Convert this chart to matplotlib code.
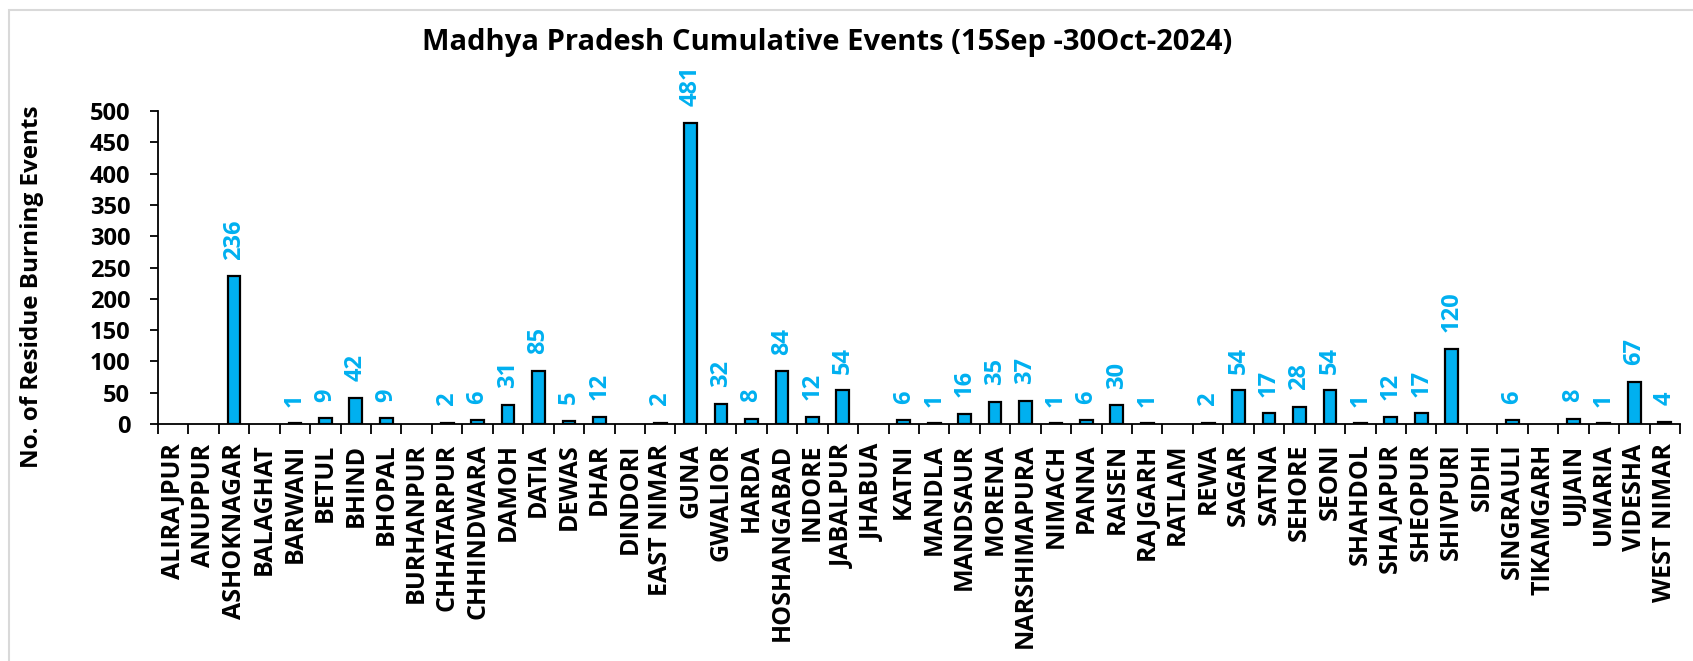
import matplotlib
matplotlib.use('Agg')
import matplotlib.pyplot as plt
import numpy as np
from matplotlib.patches import Rectangle

# districts and cumulative residue burning events
districts = ['ALIRAJPUR', 'ANUPPUR', 'ASHOKNAGAR', 'BALAGHAT', 'BARWANI', 'BETUL', 'BHIND',
             'BHOPAL', 'BURHANPUR', 'CHHATARPUR', 'CHHINDWARA', 'DAMOH', 'DATIA', 'DEWAS',
             'DHAR', 'DINDORI', 'EAST NIMAR', 'GUNA', 'GWALIOR', 'HARDA', 'HOSHANGABAD',
             'INDORE', 'JABALPUR', 'JHABUA', 'KATNI', 'MANDLA', 'MANDSAUR', 'MORENA',
             'NARSHIMAPURA', 'NIMACH', 'PANNA', 'RAISEN', 'RAJGARH', 'RATLAM', 'REWA',
             'SAGAR', 'SATNA', 'SEHORE', 'SEONI', 'SHAHDOL', 'SHAJAPUR', 'SHEOPUR',
             'SHIVPURI', 'SIDHI', 'SINGRAULI', 'TIKAMGARH', 'UJJAIN', 'UMARIA', 'VIDESHA',
             'WEST NIMAR']
events = [0, 0, 236, 0, 1, 9, 42,
          9, 0, 2, 6, 31, 85, 5,
          12, 0, 2, 481, 32, 8, 84,
          12, 54, 0, 6, 1, 16, 35,
          37, 1, 6, 30, 1, 0, 2,
          54, 17, 28, 54, 1, 12, 17,
          120, 0, 6, 0, 8, 1, 67,
          4]
yticks = [0, 50, 100, 150, 200, 250, 300, 350, 400, 450, 500]

plt.rcParams['font.family'] = ['Open Sans', 'DejaVu Sans']
plt.rcParams['font.weight'] = 'bold'

azul = '#00B0F0'

fig = plt.figure(figsize=(16.93, 6.61), dpi=100)
ax = fig.add_axes([0.0933, 0.3585, 0.8990, 0.4735])

x = np.arange(len(districts))
# sin borde en las barras de valor cero
bordes = [1.6 if v > 0 else 0 for v in events]
ax.bar(x, events, width=0.42, color=azul, edgecolor='black', linewidth=bordes)

# etiquetas de valor, solo para barras con datos
for xi, v in zip(x, events):
    if v > 0:
        ax.annotate(str(v), (xi, v), xytext=(0, 12), textcoords='offset points',
                    rotation=90, ha='center', va='bottom', color=azul,
                    fontsize=17, fontweight='bold')

ax.set_xlim(-0.5, len(districts) - 0.5)
ax.set_ylim(0, 500)
ax.set_yticks(yticks)
ax.set_yticklabels([str(t) for t in yticks], fontsize=17, fontweight='bold')

ax.set_xticks(x)
ax.set_xticklabels(districts, rotation=90, fontsize=18, fontweight='bold')
ax.set_xticks(np.arange(len(districts) + 1) - 0.5, minor=True)
ax.tick_params(axis='x', which='major', length=0, pad=14)
ax.tick_params(axis='x', which='minor', length=7, width=1.3)
ax.tick_params(axis='y', length=6, width=1.3, pad=14)

for s in ['top', 'right']:
    ax.spines[s].set_visible(False)
ax.spines['left'].set_linewidth(1.3)
ax.spines['bottom'].set_linewidth(1.3)

fig.text(0.4885, 1 - 50 / 661, 'Madhya Pradesh Cumulative Events (15Sep -30Oct-2024)',
         ha='center', va='baseline', fontsize=21, fontweight='bold')
fig.text(0.019, 0.566, 'No. of Residue Burning Events', rotation=90,
         ha='center', va='center', fontsize=17.5, fontweight='bold')

# marco gris alrededor del grafico
fig.patches.append(Rectangle((9 / 1693, -0.02), 1.0, 1.005, transform=fig.transFigure,
                             fill=False, edgecolor='#D9D9D9', linewidth=1.5))

fig.savefig('out.png', dpi=100)
